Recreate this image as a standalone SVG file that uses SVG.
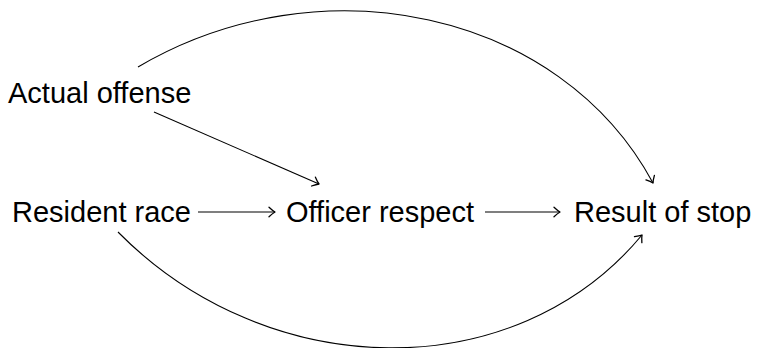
<svg xmlns="http://www.w3.org/2000/svg" width="757" height="348" viewBox="0 0 757 348">
<style>
.lbl{font-family:"Liberation Sans",Arial,sans-serif;font-size:29px;fill:#000}
.edge{fill:none;stroke:#000;stroke-width:1.1;marker-end:url(#to)}
</style>
<defs>
<marker id="to" viewBox="-7 -6 9 12" refX="0.8" refY="0" markerWidth="9" markerHeight="12" markerUnits="userSpaceOnUse" orient="auto">
<path d="M-5.2,-4.8 Q-1.6,-1.4 0.8,0 Q-1.6,1.4 -5.2,4.8" fill="none" stroke="#000" stroke-width="1.3" stroke-linecap="round" stroke-linejoin="round"/>
</marker>
</defs>
<rect width="757" height="348" fill="#fff"/>
<g id="connectors">
<path class="edge" d="M198,212 L275,212"/>
<path class="edge" d="M485,212 L560,212"/>
<path class="edge" d="M154,112 L319,184"/>
<path class="edge" d="M138,67 C320,-40 560,10 653,183"/>
<path class="edge" d="M118,232 C268,384 515,388 642,235"/>
</g>
<g id="actual-offense"><text class="lbl" x="8" y="103">Actual offense</text></g>
<g id="resident-race"><text class="lbl" x="12" y="222">Resident race</text></g>
<g id="officer-respect"><text class="lbl" x="286" y="222">Officer respect</text></g>
<g id="result-of-stop"><text class="lbl" x="574" y="222">Result of stop</text></g>
</svg>
